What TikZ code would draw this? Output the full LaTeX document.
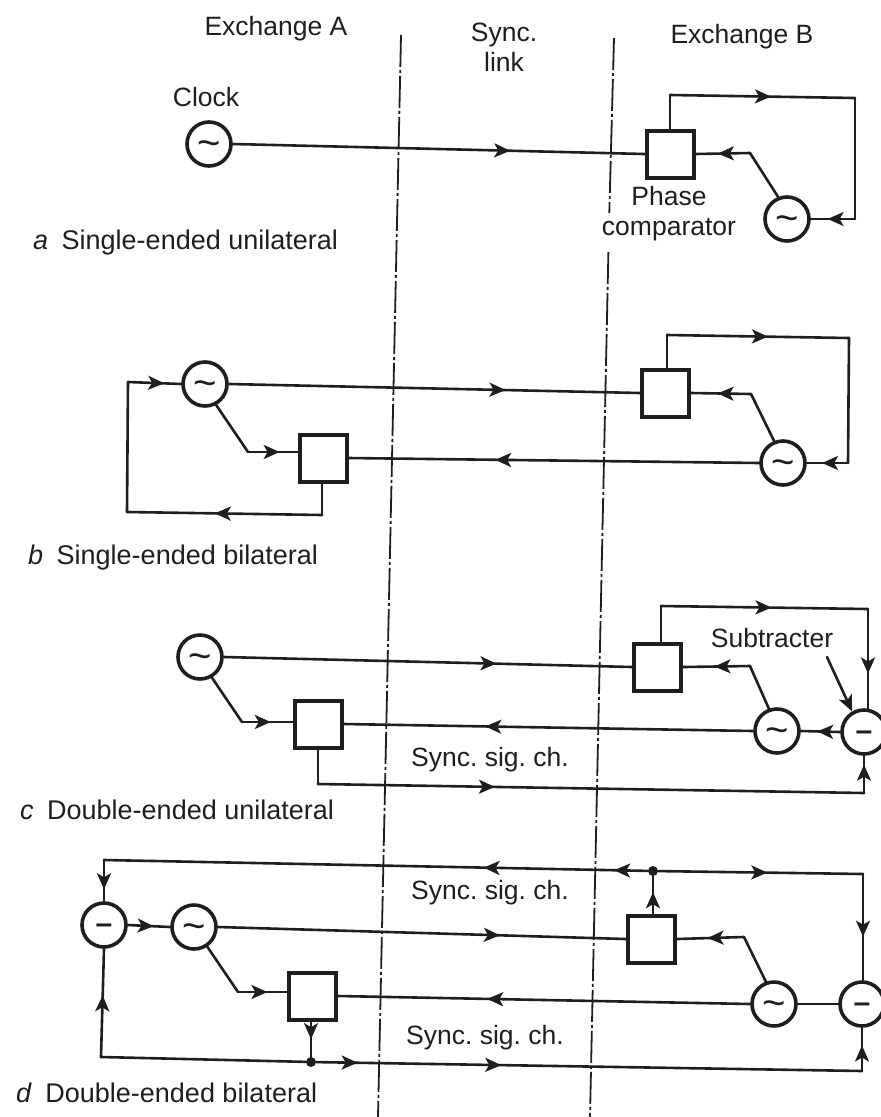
\documentclass[tikz,border=0pt]{standalone}
\usepackage{fontspec}
\setmainfont{Liberation Sans}
\usetikzlibrary{arrows.meta,decorations.markings}
\definecolor{ink}{HTML}{1E1E1E}
\newcommand{\oscglyph}{\smash{\raisebox{-12pt}{\textasciitilde}}}
\newcommand{\subglyph}{\smash{\raisebox{-8.5pt}{–}}}
\tikzset{
  wire/.style={draw=ink,line width=2.6pt,line cap=round,line join=round},
  tip/.style={postaction={decorate,decoration={markings,mark=at position #1 with {\arrow[ink]{Stealth[length=16pt,width=14pt,inset=4pt]}}}}},
  oscnode/.style={circle,draw=ink,line width=3.6pt,minimum size=44pt,inner sep=0pt,fill=white,text=ink,font=\fontsize{40}{40}\selectfont},
  subnode/.style={circle,draw=ink,line width=3.6pt,minimum size=44pt,inner sep=0pt,fill=white,text=ink,font=\fontsize{30}{30}\selectfont\bfseries},
  cmpnode/.style={rectangle,draw=ink,line width=4pt,minimum size=47pt,inner sep=0pt,fill=white},
  lab/.style={text=ink,font=\frenchspacing\fontsize{26.5}{30}\selectfont,align=center,inner sep=0pt},
  capt/.style={text=ink,font=\fontsize{27}{30}\selectfont,inner sep=0pt,anchor=west},
  syncline/.style={draw=ink,line width=1.8pt,dash pattern=on 32pt off 3pt on 3pt off 3pt},
  dotnode/.style={circle,fill=ink,minimum size=10pt,inner sep=0pt}
}
\begin{document}
\begin{tikzpicture}[x=1pt,y=-1pt]
\useasboundingbox (0,0) rectangle (881,1117);
% sync link boundaries
\coordinate (lt) at (401,35); \coordinate (lb) at (378,1117);
\coordinate (rt) at (614,38); \coordinate (rm) at (609.3,213);
\coordinate (rn) at (608.4,252); \coordinate (rb) at (590,1117);
\draw[syncline] (lt) -- (lb);
\draw[syncline] (rt) -- (rm);
\draw[syncline] (rn) -- (rb);
% headings
\node[lab] (hA) at (276,29) {Exchange A};
\node[lab] (hS) at (504,47) {Sync.\\link};
\node[lab] (hB) at (742,37) {Exchange B};

% ---------- a
\node[oscnode] (a1) at (209,144) {\oscglyph};
\node[cmpnode] (a2) at (670,154) {};
\node[oscnode] (a3) at (787,219) {\oscglyph};
\node[lab] (aclk) at (206,97) {Clock};
\node[lab] (aph) at (669,214) {Phase\\comparator};
\node[capt] (acap) at (33,243) {\textit{a}\enspace Single-ended unilateral};
\coordinate (a4) at (670,95); \coordinate (a5) at (855,98); \coordinate (a6) at (855,219); \coordinate (a7) at (750,153);
\draw[wire,tip=0.674] (a1.east) -- (a2.west);
\draw[wire] (a2.north -| a4) -- (a4);
\draw[wire,tip=0.546] (a4) -- (a5);
\draw[wire] (a5) -- (a6);
\draw[wire,tip=0.62] (a6) -- (a3.east);
\draw[wire] (a3.112) -- (a7);
\draw[wire,tip=0.59] (a7) -- (a2.east);

% ---------- b
\node[oscnode] (b1) at (205,384) {\oscglyph};
\node[cmpnode] (b2) at (665.5,393) {};
\node[oscnode] (b3) at (783,463) {\oscglyph};
\node[cmpnode] (b4) at (323,458) {};
\node[capt] (bcap) at (28,558) {\textit{b}\enspace Single-ended bilateral};
\coordinate (b5) at (667,335); \coordinate (b6) at (849,338); \coordinate (b7) at (848,463);
\coordinate (b8) at (751,394); \coordinate (b9) at (248,452);
\coordinate (b10) at (322,515); \coordinate (b11) at (127,512); \coordinate (b12) at (128,382);
\draw[wire,tip=0.673] (b1.east) -- (b2.west);
\draw[wire] (b2.north -| b5) -- (b5);
\draw[wire,tip=0.555] (b5) -- (b6);
\draw[wire] (b6) -- (b7);
\draw[wire,tip=0.63] (b7) -- (b3.east);
\draw[wire] (b3.112) -- (b8);
\draw[wire,tip=0.557] (b8) -- (b2.east);
\draw[wire,tip=0.643] (b3.west) -- (b4.east);
\draw[wire] (b1.-62) -- (b9);
\draw[wire,tip=0.64] (b9) -- (b9 -| b4.west);
\draw[wire] (b4.south -| b10) -- (b10);
\draw[wire,tip=0.55] (b10) -- (b11);
\draw[wire] (b11) -- (b12);
\draw[wire,tip=0.68] (b12) -- (b1.west);

% ---------- c
\node[oscnode] (c1) at (200,657) {\oscglyph};
\node[cmpnode] (c2) at (657.5,667) {};
\node[oscnode] (c3) at (777,731) {\oscglyph};
\node[subnode] (c4) at (864,732) {\subglyph};
\node[cmpnode] (c5) at (318,724) {};
\node[lab] (csub) at (772,638) {Subtracter};
\node[lab] (csig) at (490,760) {Sync. sig. ch.};
\node[capt] (ccap) at (20,810) {\textit{c}\enspace Double-ended unilateral};
\coordinate (c6) at (661,606); \coordinate (c7) at (868,609); \coordinate (c8) at (750,666);
\coordinate (c9) at (242,722); \coordinate (c10) at (318,784); \coordinate (c11) at (864,793);
\coordinate (c12) at (827,657);
\draw[wire,tip=0.668] (c1.east) -- (c2.west);
\draw[wire] (c2.north -| c6) -- (c6);
\draw[wire,tip=0.534] (c6) -- (c7);
\draw[wire,tip=0.65] (c7) -- (c4.north -| c7);
\draw[wire] (c3.110) -- (c8);
\draw[wire,tip=0.53] (c8) -- (c2.east);
\draw[wire,tip=0.654] (c3.west) -- (c5.east);
\draw[wire,tip=0.585] (c4.west) -- (c3.east);
\draw[wire] (c1.-60) -- (c9);
\draw[wire,tip=0.57] (c9) -- (c9 -| c5.west);
\draw[wire] (c5.south) -- (c10);
\draw[wire,tip=0.324] (c10) -- (c11);
\draw[wire,tip=0.76] (c11) -- (c4.south);
\draw[wire,-{Stealth[length=16pt,width=14pt,inset=4pt]}] (c12) -- (c4.120);

% ---------- d
\node[subnode] (d1) at (104,925) {\subglyph};
\node[oscnode] (d2) at (194,927) {\oscglyph};
\node[cmpnode] (d3) at (312.5,996) {};
\node[cmpnode] (d4) at (651,939) {};
\node[oscnode] (d5) at (774,1004) {\oscglyph};
\node[subnode] (d6) at (862,1004) {\subglyph};
\node[dotnode] (d7) at (653,871) {};
\node[dotnode] (d8) at (311,1062) {};
\node[lab] (dsig1) at (490,893) {Sync. sig. ch.};
\node[lab] (dsig2) at (485,1038) {Sync. sig. ch.};
\node[capt] (dcap) at (16,1093) {\textit{d}\enspace Double-ended bilateral};
\coordinate (d9) at (104,860); \coordinate (d10) at (863,874); \coordinate (d11) at (744,937);
\coordinate (d12) at (238,992); \coordinate (d13) at (101,1057); \coordinate (d14) at (862,1071);
\draw[wire,tip=0.71] (d9) -- (d1.north);
\draw[wire,tip=0.062,tip=0.302] (d7) -- (d9);
\draw[wire,tip=0.533] (d7) -- (d10);
\draw[wire,tip=0.59] (d10) -- (d6.north -| d10);
\draw[wire,tip=0.61] (d1.east) -- (d2.west);
\draw[wire,tip=0.692] (d2.east) -- (d4.west);
\draw[wire,tip=0.57] (d4.north -| d7) -- (d7);
\draw[wire] (d5.110) -- (d11);
\draw[wire,tip=0.54] (d11) -- (d4.east);
\draw[wire,tip=0.638] (d5.west) -- (d3.east);
\draw[wire] (d6.west) -- (d5.east);
\draw[wire] (d2.-56) -- (d12);
\draw[wire,tip=0.6] (d12) -- (d12 -| d3.west);
\draw[wire,tip=0.5] (d3.south -| d8) -- (d8);
\draw[wire] (d8) -- (d13);
\draw[wire,tip=0.57] (d13) -- (d1.south);
\draw[wire,tip=0.076,tip=0.339] (d8) -- (d14);
\draw[wire,tip=0.59] (d14) -- (d6.south);
\end{tikzpicture}
\end{document}
